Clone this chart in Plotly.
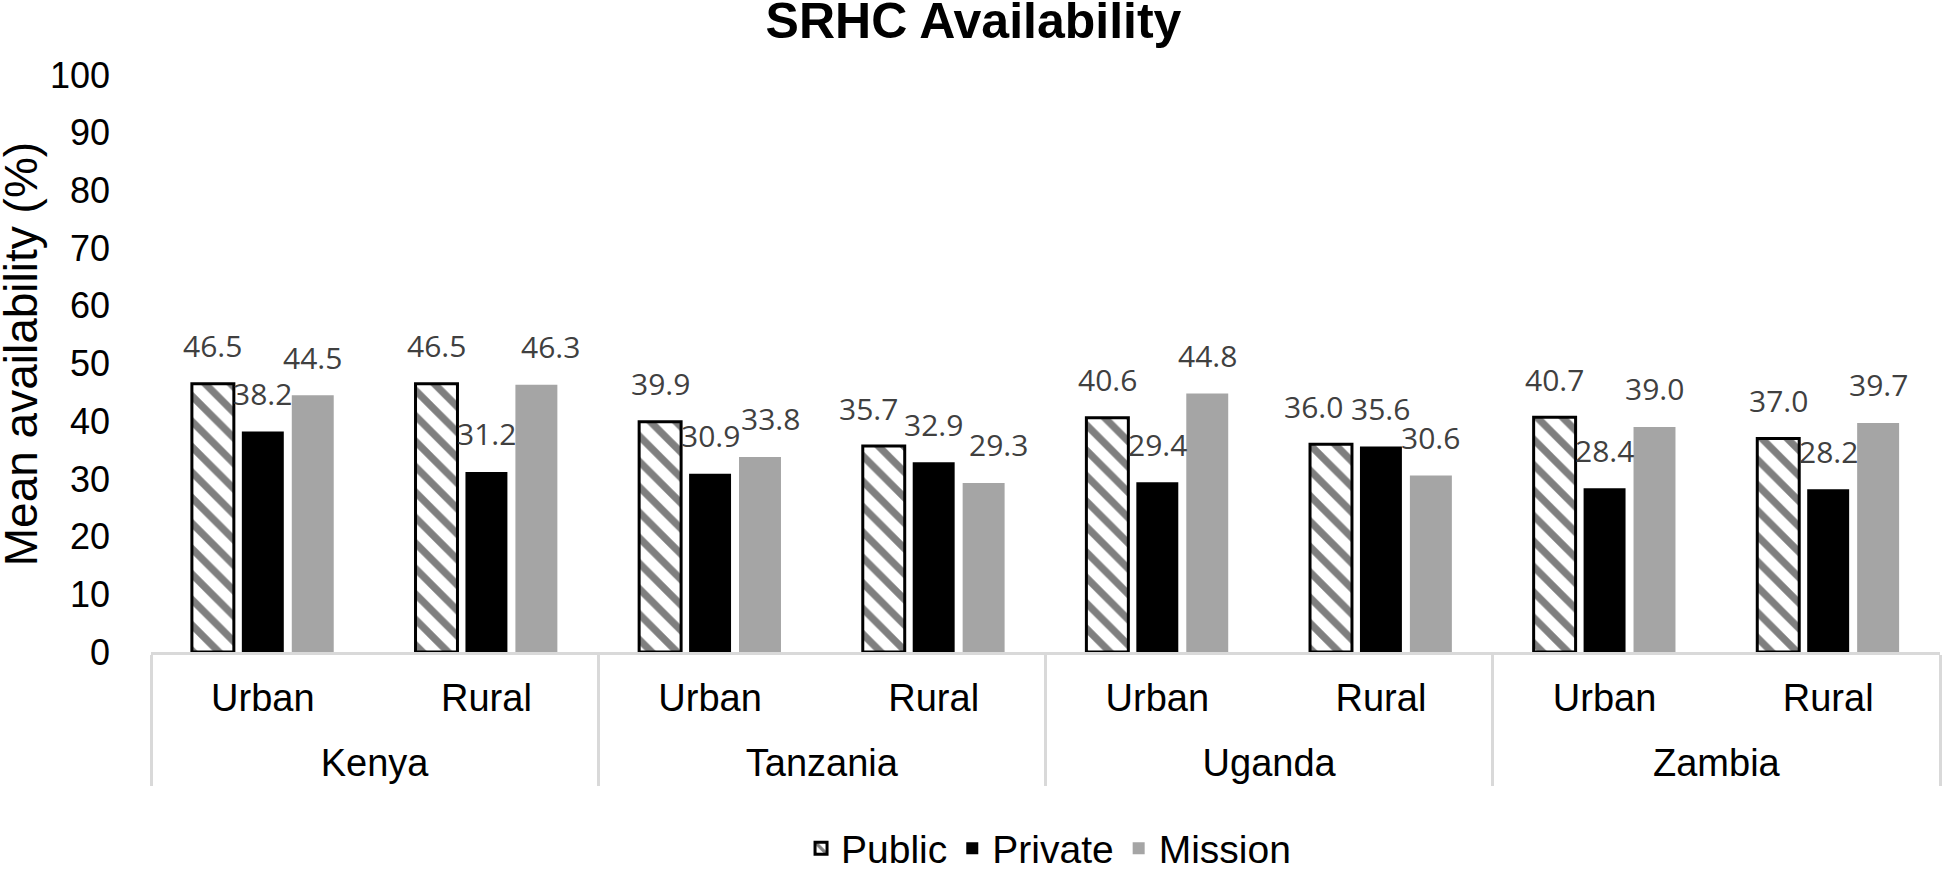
import plotly.graph_objects as go

countries = ["Kenya", "Kenya", "Tanzania", "Tanzania", "Uganda", "Uganda", "Zambia", "Zambia"]
settings = ["Urban", "Rural", "Urban", "Rural", "Urban", "Rural", "Urban", "Rural"]

public = [46.5, 46.5, 39.9, 35.7, 40.6, 36.0, 40.7, 37.0]
private = [38.2, 31.2, 30.9, 32.9, 29.4, 35.6, 28.4, 28.2]
mission = [44.5, 46.3, 33.8, 29.3, 44.8, 30.6, 39.0, 39.7]

series_names = ["Public", "Private", "Mission"]

W, H = 1947, 871
ML, MR, MT, MB = 151, 7, 74.5, 219
BARGAP, GROUPGAP = 0.33, 0.16

# horizontal nudges (px) of a few data labels, as in the original chart
LABEL_NUDGE_PX = {("Public", 3): -15, ("Public", 5): -17,
                  ("Mission", 1): 14, ("Mission", 2): 10, ("Mission", 3): 15}

# inner labels get an extra tiny line so the outer row sits lower
inner_labels = [s + "<br><sup>\u00a0</sup>" for s in settings]
x = [countries, inner_labels]
label_font = dict(family="Open Sans", size=30, color="#404040")

fig = go.Figure()
fig.add_trace(go.Bar(
    name="Public", x=x, y=public,
    marker=dict(color="white", line=dict(color="black", width=3),
                pattern=dict(shape="\\", fgcolor="black", bgcolor="white", size=18, solidity=0.4)),
))
fig.add_trace(go.Bar(
    name="Private", x=x, y=private,
    marker=dict(color="black", line=dict(width=0)),
))
fig.add_trace(go.Bar(
    name="Mission", x=x, y=mission,
    marker=dict(color="#A5A5A5", line=dict(width=0)),
))

# data labels centred above each bar
plot_w = W - ML - MR
cat_px = plot_w / len(settings)
slot_px = cat_px * (1 - BARGAP) / 3
annotations = []
for k, (name, vals) in enumerate(zip(series_names, [public, private, mission])):
    for i, v in enumerate(vals):
        annotations.append(dict(
            x=i, y=v, xref="x", yref="y", text=f"{v:.1f}", showarrow=False,
            xanchor="center", yanchor="middle",
            xshift=(k - 1) * slot_px + LABEL_NUDGE_PX.get((name, i), 0), yshift=38,
            font=label_font,
        ))

# y-axis title
annotations.append(dict(
    text="Mean availability (%)", textangle=-90, showarrow=False,
    xref="paper", yref="paper", x=(21 - ML) / plot_w, y=0.516,
    xanchor="center", yanchor="middle",
    font=dict(family="Liberation Sans", size=46, color="black"),
))

fig.update_layout(
    width=W, height=H,
    margin=dict(l=ML, r=MR, t=MT, b=MB, autoexpand=False),
    plot_bgcolor="white", paper_bgcolor="white",
    barmode="group", bargap=BARGAP, bargroupgap=GROUPGAP,
    font=dict(family="Liberation Sans", color="black"),
    title=dict(text="<b>SRHC Availability</b>", x=0.5, xref="container", xanchor="center",
               y=0.976, yref="container", yanchor="middle",
               font=dict(family="Liberation Sans", size=50, color="black")),
    legend=dict(orientation="h", x=0.5017, xanchor="center", y=0.026, yref="container", yanchor="middle",
                font=dict(family="Liberation Sans", size=39, color="black"),
                itemclick=False),
    showlegend=True,
    annotations=annotations,
)
fig.update_xaxes(
    automargin=False,
    showline=True, linecolor="#D9D9D9", linewidth=3,
    showdividers=True, dividercolor="#D9D9D9", dividerwidth=3,
    tickfont=dict(family="Liberation Sans", size=38, color="black"),
    ticks="", ticklabelstandoff=10,
    showgrid=False,
)
fig.update_yaxes(
    automargin=False,
    range=[0, 100], dtick=10, showgrid=False, showline=False, zeroline=False,
    tickfont=dict(family="Liberation Sans", size=36, color="black"),
    ticklabelstandoff=40,
)

# drop the browser's default 8px body margin so the figure fills the window exactly
fig.write_html(
    "out.html",
    config={"displayModeBar": False},
    post_script="document.body.style.margin='0';document.body.style.overflow='hidden';",
)
